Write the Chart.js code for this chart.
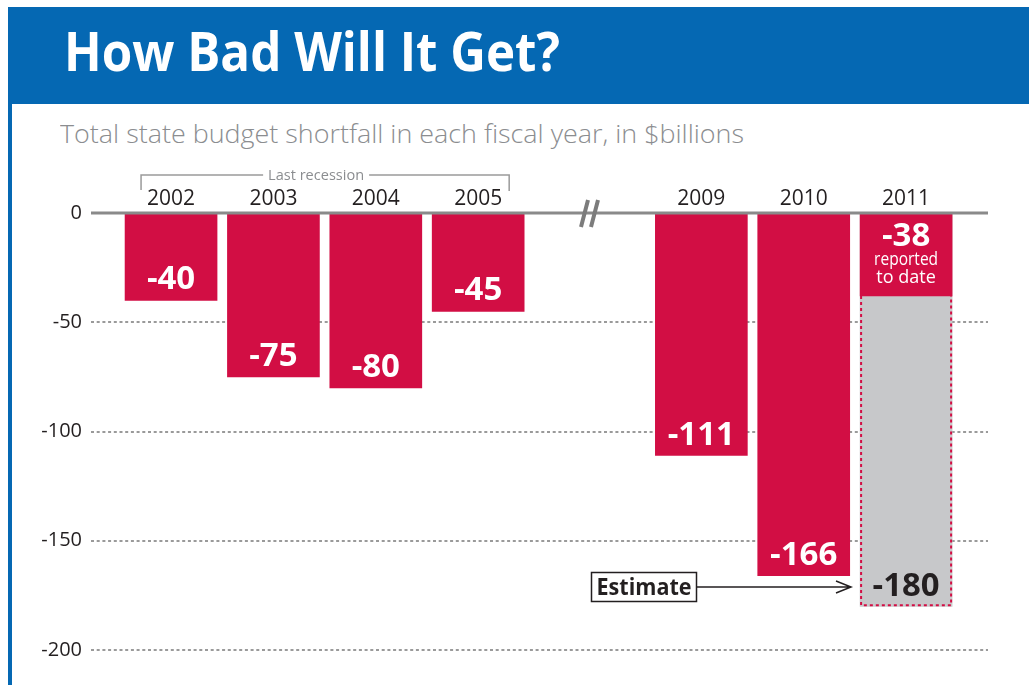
<!DOCTYPE html>
<html>
<head>
<meta charset="utf-8">
<script src="https://cdn.jsdelivr.net/npm/chart.js@4"></script>
<style>
    html, body { margin: 0; padding: 0; background: #fff; }
    body { width: 1029px; height: 685px; position: relative; overflow: hidden; font-family: 'Open Sans', sans-serif; }
    #header { position: absolute; left: 8px; top: 7px; width: 1021px; height: 97px; background: #0568b3; }
    #title { position: absolute; left: 56px; top: 16px; font-size: 54px; line-height: 1; font-weight: 700; color: #fff; white-space: nowrap; transform-origin: 0 0; }
    #sideRule { position: absolute; left: 8px; top: 104px; width: 4px; height: 581px; background: #0568b3; }
    #subtitle { position: absolute; left: 60px; top: 120px; font-size: 26px; line-height: 1; font-weight: 300; color: #8b8d90; white-space: nowrap; transform-origin: 0 0; }
    #wrap { position: absolute; left: 0; top: 0; width: 1029px; height: 685px; }
</style>
</head>
<body>
<div id="header"><span id="title">How Bad Will It Get?</span></div>
<div id="sideRule"></div>
<div id="subtitle">Total state budget shortfall in each fiscal year, in $billions</div>
<div id="wrap"><canvas id="budgetChart" width="1029" height="685"></canvas></div>
<script>
const years = ['2002', '2003', '2004', '2005', '2009', '2010', '2011'];
const shortfall = [-40, -75, -80, -45, -111, -166, -38];
const estimate2011 = -180;
const yTicks = [0, -50, -100, -150, -200];

const RED = '#d20e44';
const GRAY = '#c7c8ca';
const INK = '#231f20';
const FONT = "'Open Sans', sans-serif";

// squeeze a text element horizontally to a given width
function fitWidth(el, w) {
    const natural = el.getBoundingClientRect().width;
    el.style.transform = 'scaleX(' + (w / natural) + ')';
}
fitWidth(document.getElementById('title'), 496);
fitWidth(document.getElementById('subtitle'), 684);

// the years after the gap sit a bit further right
function xPos(i) {
    return i + (i >= 4 ? 1.18 : 0);
}

const decorations = {
    id: 'decorations',
    afterDatasetsDraw(chart) {
        const ctx = chart.ctx;
        const area = chart.chartArea;
        const y0 = chart.scales.y.getPixelForValue(0);
        const bars = chart.getDatasetMeta(0).data;
        const est = chart.getDatasetMeta(1).data[0];

        ctx.save();

        // solid zero line
        ctx.strokeStyle = '#8a8a8a';
        ctx.lineWidth = 3;
        ctx.beginPath();
        ctx.moveTo(area.left, y0);
        ctx.lineTo(area.right, y0);
        ctx.stroke();

        // axis break mark
        ctx.strokeStyle = '#7c7c7c';
        ctx.lineWidth = 4;
        ctx.beginPath();
        ctx.moveTo(588, 200); ctx.lineTo(581, 227);
        ctx.moveTo(598, 200); ctx.lineTo(591, 227);
        ctx.stroke();

        // year labels
        ctx.fillStyle = INK;
        ctx.font = '21px ' + FONT;
        ctx.textAlign = 'center';
        ctx.textBaseline = 'alphabetic';
        bars.forEach((bar, i) => ctx.fillText(years[i], bar.x, y0 - 8, 50));

        // "Last recession" bracket over the first four years
        const bl = bars[0].x - 30, br = bars[3].x + 31, by = 175;
        ctx.font = '15px ' + FONT;
        ctx.fillStyle = '#8b8d90';
        const mid = (bl + br) / 2 - 9;
        ctx.fillText('Last recession', mid, by + 5, 96);
        ctx.strokeStyle = '#9a9a9a';
        ctx.lineWidth = 1.5;
        ctx.beginPath();
        ctx.moveTo(bl, by + 15); ctx.lineTo(bl, by); ctx.lineTo(mid - 53, by);
        ctx.moveTo(mid + 53, by); ctx.lineTo(br, by); ctx.lineTo(br, by + 16);
        ctx.stroke();

        // dotted red outline of the estimate bar
        const eh = est.width / 2;
        ctx.strokeStyle = RED;
        ctx.lineWidth = 2;
        ctx.setLineDash([3, 3]);
        ctx.beginPath();
        ctx.moveTo(est.x - eh + 1, bars[6].y);
        ctx.lineTo(est.x - eh + 1, est.y - 1);
        ctx.lineTo(est.x + eh - 1, est.y - 1);
        ctx.lineTo(est.x + eh - 1, bars[6].y);
        ctx.stroke();
        ctx.setLineDash([]);

        // value labels inside the bars
        ctx.font = 'bold 33px ' + FONT;
        ctx.fillStyle = '#fff';
        bars.forEach((bar, i) => {
            if (i === 6) return;
            const w = String(shortfall[i]).length * 17;
            ctx.fillText(String(shortfall[i]), bar.x, bar.y - 11, w);
        });
        const b11 = bars[6];
        ctx.fillText(String(shortfall[6]), b11.x, y0 + 33, 51);
        ctx.font = '18px ' + FONT;
        ctx.fillText('reported', b11.x, y0 + 52, 64);
        ctx.fillText('to date', b11.x, y0 + 70, 60);

        ctx.font = 'bold 33px ' + FONT;
        ctx.fillStyle = INK;
        ctx.fillText(String(estimate2011), est.x, est.y - 10, 67);

        // "Estimate" callout with arrow
        ctx.strokeStyle = INK;
        ctx.lineWidth = 1.5;
        ctx.strokeRect(591.5, 572.5, 105, 29);
        ctx.font = 'bold 23px ' + FONT;
        ctx.fillText('Estimate', 644, 595, 95);
        ctx.beginPath();
        ctx.moveTo(697, 587); ctx.lineTo(851, 587);
        ctx.moveTo(836, 581); ctx.lineTo(851, 587); ctx.lineTo(836, 593);
        ctx.stroke();

        ctx.restore();
    }
};

const ctx = document.getElementById('budgetChart').getContext('2d');
new Chart(ctx, {
    type: 'bar',
    data: {
        datasets: [{
            label: 'Shortfall',
            data: years.map((y, i) => ({ x: xPos(i), y: shortfall[i] })),
            backgroundColor: RED,
            barThickness: 92,
            grouped: false,
            order: 0
        }, {
            label: 'Estimate',
            data: [{ x: xPos(6), y: estimate2011 }],
            backgroundColor: GRAY,
            barThickness: 92,
            grouped: false,
            order: 1
        }]
    },
    options: {
        responsive: false,
        animation: false,
        layout: { padding: { left: 0, top: 213, right: 41, bottom: 35 } },
        plugins: { legend: { display: false }, tooltip: { enabled: false } },
        scales: {
            x: {
                type: 'linear',
                display: false,
                offset: false,
                min: -0.782,
                max: 7.98
            },
            y: {
                min: -200,
                max: 0,
                afterBuildTicks: scale => { scale.ticks = yTicks.map(v => ({ value: v })); },
                afterFit: scale => { scale.width = 91; },
                grid: { color: '#9a9a9a', lineWidth: 2, drawTicks: false },
                border: { display: false, dash: [3, 2.7] },
                ticks: {
                    color: INK,
                    padding: 9,
                    font: { family: FONT, size: 20 }
                }
            }
        }
    },
    plugins: [decorations]
});
</script>
</body>
</html>
